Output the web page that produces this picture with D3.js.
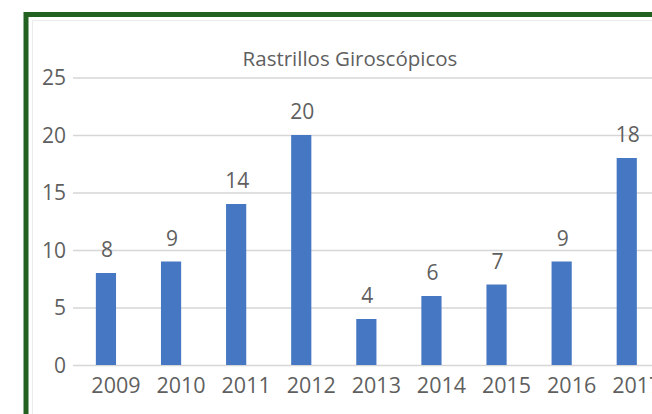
<!DOCTYPE html>
<html>
<head>
<meta charset="utf-8">
<script src="https://cdn.jsdelivr.net/npm/d3@7"></script>
<style>
  html, body { margin: 0; padding: 0; background: #fff; overflow: hidden; }
  svg { display: block; }
  text { font-family: "Open Sans", sans-serif; fill: #5f5f5f; }
</style>
</head>
<body>
<svg id="chart" width="652" height="414"></svg>
<script>
const title = "Rastrillos Giroscópicos";
const years = ["2009", "2010", "2011", "2012", "2013", "2014", "2015", "2016", "2017"];
const values = [8, 9, 14, 20, 4, 6, 7, 9, 18];
const yTicks = [0, 5, 10, 15, 20, 25];

const svg = d3.select("#chart");

// outer frame
svg.append("rect")
  .attr("x", 26).attr("y", 14.5)
  .attr("width", 700).attr("height", 500)
  .attr("fill", "#fff")
  .attr("stroke", "#22611f").attr("stroke-width", 5);
// inner faint chart-area border
svg.append("rect")
  .attr("x", 32.5).attr("y", 20.5)
  .attr("width", 700).attr("height", 500)
  .attr("fill", "none")
  .attr("stroke", "#ececec").attr("stroke-width", 1);

const x = d3.scaleBand()
  .domain(years)
  .range([73.4, 659.3])
  .paddingInner(0.69)
  .paddingOuter(0.345);

const y = d3.scaleLinear()
  .domain([0, 25])
  .range([365, 77.5]);

// y gridlines + labels via axis
const yAxis = d3.axisLeft(y)
  .tickValues(yTicks)
  .tickSize(-620)
  .tickPadding(7)
  .tickFormat(d3.format("d"));
const gy = svg.append("g")
  .attr("transform", "translate(73,0)")
  .call(yAxis);
gy.select(".domain").remove();
gy.selectAll(".tick line").attr("stroke", "#d6d6d6").attr("stroke-width", 1.5);
gy.selectAll(".tick text")
  .attr("font-size", 21)
  .attr("fill", "#666")
  .attr("dy", "0.35em");

// bars
svg.append("g").selectAll("rect")
  .data(years)
  .join("rect")
  .attr("x", d => x(d))
  .attr("width", x.bandwidth())
  .attr("y", (d, i) => y(values[i]))
  .attr("height", (d, i) => y(0) - y(values[i]))
  .attr("fill", "#4677c2");

// data labels
svg.append("g").selectAll("text")
  .data(years)
  .join("text")
  .attr("x", d => x(d) + x.bandwidth() / 2 + 1)
  .attr("y", (d, i) => y(values[i]) - 16)
  .attr("text-anchor", "middle")
  .attr("font-size", 21)
  .attr("fill", "#666")
  .text((d, i) => values[i]);

// x axis labels
const xAxis = d3.axisBottom(x).tickSize(0).tickPadding(0);
const gx = svg.append("g")
  .attr("transform", "translate(0,365)")
  .call(xAxis);
gx.select(".domain").remove();
gx.selectAll(".tick text")
  .attr("font-size", 21.5)
  .attr("fill", "#666")
  .attr("dx", 10)
  .attr("dy", 0)
  .attr("y", 28);

// title
svg.append("text")
  .attr("x", 350).attr("y", 66)
  .attr("text-anchor", "middle")
  .attr("font-size", 20.5)
  .attr("fill", "#6a6a6a")
  .text(title);
</script>
</body>
</html>
